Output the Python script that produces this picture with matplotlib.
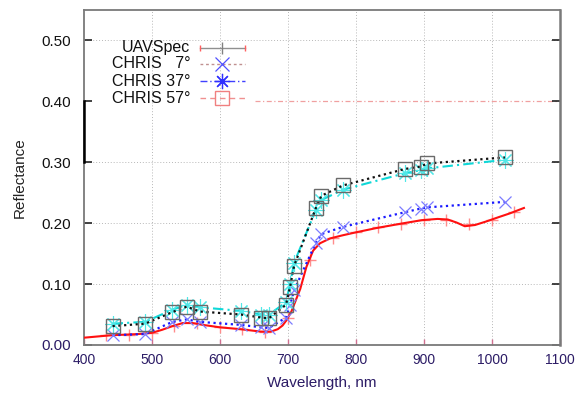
#!/usr/bin/env python3
"""
Canopy reflectance: UAVSpec field spectrum vs CHRIS band values
at three view angles.
"""

import matplotlib
matplotlib.use("Agg")
import matplotlib.pyplot as plt
from matplotlib.lines import Line2D

plt.rcParams['font.family'] = ['Liberation Sans', 'DejaVu Sans']

# UAVSpec spectrum (continuous)
uav_wl = [400, 420, 440, 460, 480, 500, 515, 530, 545, 560, 575, 600, 630,
          660, 675, 685, 692, 698, 705, 712, 718, 727, 737, 747, 762, 780,
          800, 830, 865, 897, 920, 935, 948, 960, 975, 992, 1010, 1026, 1047]
uav_refl = [0.012, 0.014, 0.016, 0.017, 0.018, 0.020, 0.025, 0.031, 0.036,
            0.036, 0.033, 0.029, 0.026, 0.022, 0.022, 0.026, 0.032, 0.041,
            0.055, 0.075, 0.092, 0.128, 0.155, 0.167, 0.175, 0.180, 0.185,
            0.192, 0.199, 0.205, 0.207, 0.206, 0.201, 0.195, 0.197, 0.203,
            0.210, 0.216, 0.225]

# UAVSpec sample points shown with markers
uav_mark_wl = [433, 466, 500, 533, 566, 600, 633, 666, 700, 733, 766, 800,
               833, 866, 900, 933, 966, 1000, 1033]
uav_mark_refl = [0.016, 0.017, 0.020, 0.032, 0.036, 0.029, 0.026, 0.022,
                 0.045, 0.140, 0.176, 0.185, 0.193, 0.199, 0.205, 0.206,
                 0.199, 0.206, 0.219]

# CHRIS mode-3 band centres
chris_wl = [442, 490, 530, 551, 570, 631, 661, 672, 697, 703, 709, 741, 749,
            781, 872, 895, 905, 1019]

chris_7 = [0.016, 0.018, 0.038, 0.042, 0.038, 0.033, 0.029, 0.028, 0.045,
           0.065, 0.090, 0.168, 0.182, 0.194, 0.218, 0.224, 0.226, 0.235]
chris_37 = [0.035, 0.038, 0.058, 0.066, 0.062, 0.056, 0.050, 0.050, 0.070,
            0.100, 0.135, 0.222, 0.238, 0.255, 0.282, 0.287, 0.290, 0.304]
chris_57 = [0.031, 0.035, 0.054, 0.063, 0.055, 0.050, 0.045, 0.044, 0.066,
            0.095, 0.130, 0.225, 0.245, 0.262, 0.289, 0.293, 0.298, 0.308]

legend_labels = ['UAVSpec', 'CHRIS   7°', 'CHRIS 37°', 'CHRIS 57°']

x_ticks = [400, 500, 600, 700, 800, 900, 1000, 1100]
y_ticks = [0.0, 0.1, 0.2, 0.3, 0.4, 0.5]

navy = '#2c1c66'
grid_col = '#b8b8b8'

fig = plt.figure(figsize=(5.76, 3.94), dpi=100)
ax = fig.add_axes([84 / 576, 49 / 394, 476 / 576, 335 / 394])

ax.set_xlim(400, 1100)
ax.set_ylim(0, 0.55)

# grid (the 0.40 line is partly hidden by the key)
for xv in x_ticks[1:-1]:
    ax.axvline(xv, color=grid_col, lw=0.7, ls=(0, (1, 2)), zorder=0)
for yv in y_ticks[1:]:
    if yv == 0.4:
        ax.hlines(yv, 651, 1100, color='#f0a0a0', lw=0.9,
                  ls=(0, (4, 2, 1, 2)), zorder=0)
    else:
        ax.axhline(yv, color=grid_col, lw=0.7, ls=(0, (1, 2)), zorder=0)

# UAVSpec
ax.plot(uav_wl, uav_refl, color='#ff1010', lw=1.5, zorder=3)
ax.plot(uav_mark_wl, uav_mark_refl, ls='none', marker='+', ms=9, mew=1.0,
        color='#ff8c8c', zorder=2)

# CHRIS 7
ax.plot(chris_wl, chris_7, color='#1a1aff', lw=1.6, ls=(0, (1, 1.6)),
        zorder=4)
ax.plot(chris_wl, chris_7, ls='none', marker='x', ms=9, mew=0.9,
        color='#7c7cff', zorder=4)

# CHRIS 37
ax.plot(chris_wl, chris_37, color='#10d8d8', lw=1.5, ls=(0, (5, 2, 1, 2)),
        zorder=5)
ax.plot(chris_wl, chris_37, ls='none', marker=(8, 2, 0), ms=12, mew=0.8,
        color='#50e8e8', zorder=5)

# CHRIS 57
ax.plot(chris_wl, chris_57, color='#101010', lw=1.6, ls=(0, (1, 1.6)),
        zorder=6)
ax.plot(chris_wl, chris_57, ls='none', marker='s', ms=10, mew=1.0,
        mfc='none', mec='#6a6a6a', zorder=6)

# key: right-aligned text, sample to the right
key_y = [0.887, 0.839, 0.788, 0.737]
tx, x0, x1, xm = 0.223, 0.244, 0.338, 0.290
key_styles = [
    dict(color='#909090', ls='-', lw=1.0, marker='|', ms=8, mec='#808080'),
    dict(color='#c09090', ls=(0, (2, 2)), lw=1.0, marker='x', ms=10,
         mec='#5050ff', mew=0.9),
    dict(color='#4040ff', ls=(0, (5, 2, 1, 2)), lw=1.0, marker=(8, 2, 0),
         ms=11, mec='#3030ff', mew=0.9),
    dict(color='#f09090', ls=(0, (4, 3)), lw=1.0, marker='s', ms=10,
         mfc='none', mec='#f08080', mew=1.0),
]
for lab, yk, st in zip(legend_labels, key_y, key_styles):
    ax.text(tx, yk, lab, transform=ax.transAxes, ha='right', va='center',
            fontsize=11.5, color='#111111')
    marker = st.pop('marker')
    ms = st.pop('ms')
    mec = st.pop('mec')
    mfc = st.pop('mfc', mec)
    mew = st.pop('mew', 1.0)
    ax.add_line(Line2D([x0, x1], [yk, yk], transform=ax.transAxes, **st))
    ax.add_line(Line2D([xm], [yk], transform=ax.transAxes, ls='none',
                       marker=marker, ms=ms, mec=mec, mfc=mfc, mew=mew))
# red end caps on the UAVSpec sample
ax.add_line(Line2D([x0, x1], [key_y[0], key_y[0]], transform=ax.transAxes,
                   ls='none', marker='|', ms=5, mec='#ff6060'))

ax.set_xticks(x_ticks)
ax.set_yticks(y_ticks)
ax.set_xticklabels([str(v) for v in x_ticks])
ax.set_yticklabels([f'{v:.2f}' for v in y_ticks])
ax.tick_params(axis='x', direction='in', length=4, width=1,
               colors='#d07090', labelcolor=navy, labelsize=10, pad=6,
               top=False)
ax.tick_params(axis='y', direction='in', length=6, width=1.2,
               colors='#222222', labelcolor='#111111', labelsize=11,
               pad=9, right=True)
ax.get_yticklabels()[0].set_color(navy)

for sp in ax.spines.values():
    sp.set_color('#7a7a7a')
    sp.set_linewidth(1.3)
ax.spines['right'].set_linewidth(1.8)

# darker stretch of the left border
ax.axvline(400, ymin=0.3 / 0.55, ymax=0.4 / 0.55, color='#000000', lw=1.8,
           zorder=7, clip_on=False)

ax.set_xlabel('Wavelength, nm', fontsize=11, color=navy, labelpad=6)
ax.set_ylabel('Reflectance', fontsize=11, color='#222222', labelpad=11)

fig.savefig('out.png', dpi=100)
